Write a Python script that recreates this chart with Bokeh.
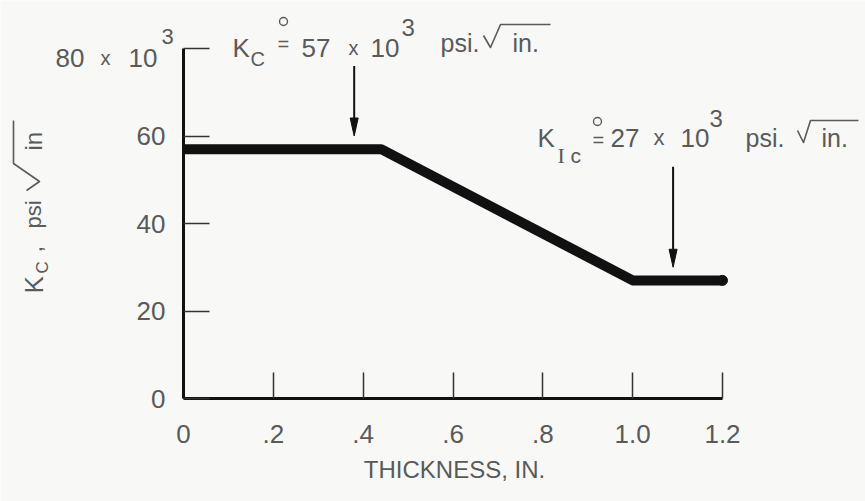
import math
from bokeh.plotting import figure
from bokeh.models import Label, FixedTicker
from bokeh.embed import file_html
from bokeh.resources import INLINE

# ---- data ----
thickness = [0.0, 0.44, 1.0, 1.2]          # in.
kc_values = [57, 57, 27, 27]               # x10^3 psi sqrt(in)
x_ticks = [0, 0.2, 0.4, 0.6, 0.8, 1.0, 1.2]
x_tick_labels = ["0", ".2", ".4", ".6", ".8", "1.0", "1.2"]
y_ticks = [0, 20, 40, 60, 80]
y_tick_labels = ["0", "20", "40", "60", ""]   # 80 x 10^3 is lettered separately
arrow_x = [0.38, 1.09]
arrow_top = [76, 53]
arrow_tip = [60, 30]

# ---- layout (page pixels of the axis corners) ----
W, H = 865, 501
X0_PX, X1_PX = 183, 722      # x = 0 and x = 1.2
Y0_PX, Y1_PX = 398, 48       # y = 0 and y = 80
XMAX, YMAX = 1.2, 80
sx = (X1_PX - X0_PX) / XMAX
sy = (Y0_PX - Y1_PX) / YMAX
x_start, x_end = -X0_PX / sx, XMAX + (W - X1_PX) / sx
y_start, y_end = -(H - Y0_PX) / sy, YMAX + Y1_PX / sy

BG = "#f8f8f6"
INK = "#111111"
TXT = "#5a5a5a"
FONT = "Liberation Sans"


def px_x(px):
    return (px - X0_PX) / sx


def px_y(py):
    return (Y0_PX - py) / sy


p = figure(width=W, height=H, output_backend="svg", toolbar_location=None,
           x_range=(x_start, x_end), y_range=(y_start, y_end),
           min_border=0)
p.background_fill_color = BG
p.border_fill_color = BG
p.outline_line_color = None
p.grid.visible = False

for ax in (p.xaxis[0], p.yaxis[0]):
    ax.fixed_location = 0
    ax.axis_line_width = 3
    ax.axis_line_color = INK
    ax.major_tick_in = 26
    ax.major_tick_out = 0
    ax.major_tick_line_width = 1.5
    ax.major_tick_line_color = "#333333"
    ax.minor_tick_line_color = None
    ax.major_label_text_font = FONT
    ax.major_label_text_font_size = "26px"
    ax.major_label_text_color = TXT

p.xaxis.bounds = (0, XMAX)
p.xaxis.ticker = FixedTicker(ticks=x_ticks)
p.xaxis.major_label_overrides = dict(zip(x_ticks, x_tick_labels))
p.xaxis.major_label_standoff = 26
p.yaxis.bounds = (0, YMAX)
p.yaxis.ticker = FixedTicker(ticks=y_ticks)
p.yaxis.major_label_overrides = dict(zip(y_ticks, y_tick_labels))
p.yaxis.major_label_standoff = 18

# main curve
p.line(thickness, kc_values, line_width=10, line_color=INK,
       line_join="round", line_cap="butt")
p.scatter([thickness[-1]], [kc_values[-1]], size=10, color=INK)

# arrows
hw = 4 / sx
hl = 18 / sy
p.segment(x0=arrow_x, y0=arrow_top, x1=arrow_x, y1=[t + hl for t in arrow_tip],
          line_width=2, line_color=INK)
p.patches(xs=[[a - hw, a, a + hw] for a in arrow_x],
          ys=[[t + hl, t, t + hl] for t in arrow_tip],
          fill_color=INK, line_color=INK)


def hlabel(text, px, py, size, font=FONT, color=TXT):
    p.add_layout(Label(x=px_x(px), y=px_y(py), text=text, text_font=font,
                       text_font_size=f"{size}px", text_color=color,
                       text_align="left", text_baseline="alphabetic"))


def vlabel(text, px, py, size, font=FONT, color=TXT):
    p.add_layout(Label(x=px_x(px), y=px_y(py), text=text, text_font=font,
                       text_font_size=f"{size}px", text_color=color,
                       angle=math.pi / 2,
                       text_align="left", text_baseline="alphabetic"))


def stroke(points, width=1.6):
    p.line([px_x(a) for a, b in points], [px_y(b) for a, b in points],
           line_width=width, line_color=TXT, line_join="round")


def ring(px, py, size=8):
    p.scatter([px_x(px)], [px_y(py)], marker="circle", size=size,
              fill_color=None, line_color=TXT, line_width=1.4)


# y tick "80 x 10^3"
hlabel("80", 55, 57, 26)
hlabel("x", 100, 57, 20)
hlabel("10", 128, 57, 26)
hlabel("3", 161, 36, 22)

# top annotation: K_C = 57 x 10^3 psi sqrt(in.)
hlabel("K", 232, 47, 26)
hlabel("C", 250, 58, 20)
ring(283, 21)
hlabel("=", 277, 43, 20)
hlabel("57", 301, 47, 26)
hlabel("x", 348, 47, 20)
hlabel("10", 370, 47, 26)
hlabel("3", 401, 27, 24)
hlabel("psi.", 440, 42, 25)
stroke([(483, 35), (490, 47), (500, 24), (550, 24)])
hlabel("in.", 512, 42, 25)

# right annotation: K_Ic = 27 x 10^3 psi sqrt(in.)
hlabel("K", 537, 137, 26)
hlabel("I", 557, 155, 22, font="Liberation Serif")
hlabel("c", 570, 155, 21)
ring(597, 121)
hlabel("=", 592, 139, 20)
hlabel("27", 610, 137, 26)
hlabel("x", 653, 137, 22)
hlabel("10", 680, 137, 26)
hlabel("3", 709, 118, 24)
hlabel("psi.", 745, 137, 25)
stroke([(797, 130), (803, 142), (810, 120), (858, 120)])
hlabel("in.", 821, 137, 25)

# x axis title
p.add_layout(Label(x=px_x(454), y=px_y(469), text="THICKNESS, IN.",
                   text_font=FONT, text_font_size="24px", text_color=TXT,
                   text_align="center", text_baseline="alphabetic"))

# y axis title: K_C , psi sqrt(in)
vlabel("K", 33, 293, 26)
vlabel("C", 42, 273, 17)
vlabel(",", 33, 252, 24)
vlabel("psi", 33, 228, 22)
stroke([(26, 190), (39, 181), (13, 163), (13, 120)])
vlabel("in", 33, 150, 24)

open("out.html", "w").write(file_html(p, INLINE))
